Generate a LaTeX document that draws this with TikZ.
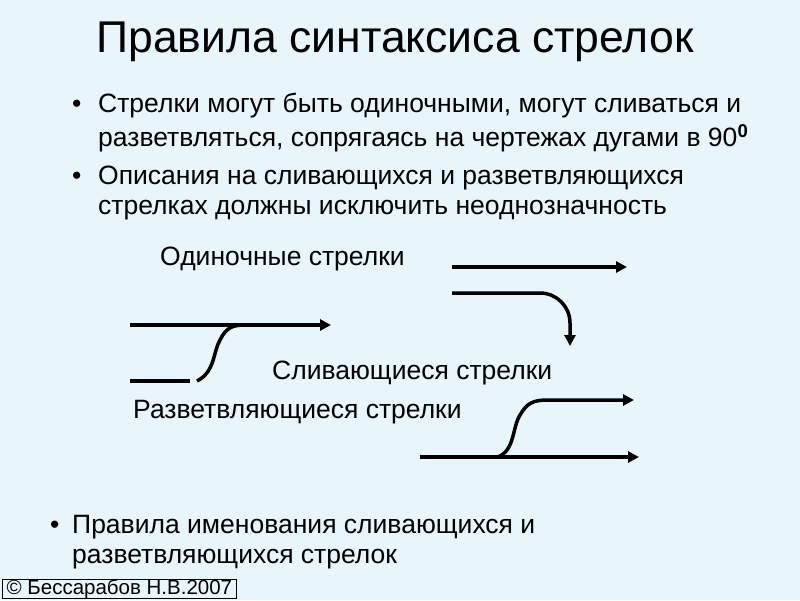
\documentclass[tikz,border=0pt]{standalone}
\usepackage{fontspec}
\setmainfont{Liberation Sans}
\usetikzlibrary{arrows.meta}
\definecolor{bg}{HTML}{E8F5FA}
\begin{document}
\begin{tikzpicture}[x=1pt,y=-1pt,
  txt/.style={anchor=west,inner sep=0pt,font=\fontsize{26.5}{30}\selectfont},
  ln/.style={line width=3.5pt},
  arr/.style={line width=3.5pt,-{Triangle[length=11pt,width=11pt]}}]
\fill[bg] (0,0) rectangle (800,600);
\useasboundingbox (0,0) rectangle (800,600);
\node[inner sep=0pt,font=\fontsize{44.5}{50}\selectfont] (title) at (395,42) {Правила синтаксиса стрелок};
\node[txt] (b1) at (72,106) {•};
\node[txt] (t1) at (98,106) {Стрелки могут быть одиночными, могут сливаться и};
\node[txt] (t1b) at (98,138) {разветвляться, сопрягаясь на чертежах дугами в 90$^{\mathbf{0}}$};
\node[txt] (b2) at (72,178) {•};
\node[txt] (t2) at (98,178) {Описания на сливающихся и разветвляющихся};
\node[txt] (t2b) at (98,210) {стрелках должны исключить неоднозначность};
\node[txt] (l1) at (160,259) {Одиночные стрелки};
\node[txt] (l2) at (272,373) {Сливающиеся стрелки};
\node[txt] (l3) at (133,412) {Разветвляющиеся стрелки};
\node[txt] (b3) at (50,527) {•};
\node[txt] (t3) at (72,527) {Правила именования сливающихся и};
\node[txt] (t3b) at (72,559) {разветвляющихся стрелок};
\node[draw,thick,anchor=south west,inner sep=0pt,font=\fontsize{20.5}{21}\selectfont,minimum width=234pt,minimum height=19pt] (copy) at (2,599) {\textcopyright\ Бессарабов Н.В.2007};
% single arrows
\coordinate (a1s) at (452,267); \coordinate (a1e) at (627,267);
\draw[arr] (a1s) -- (a1e);
\coordinate (a2s) at (452,293); \coordinate (a2e) at (570,346);
\draw[arr] (a2s) -- (540,293) arc[start angle=-90,end angle=0,radius=30] -- (a2e);
% merging
\coordinate (m1s) at (130,325); \coordinate (m1e) at (331,325);
\draw[arr] (m1s) -- (m1e);
\coordinate (m2s) at (130,381); \coordinate (m2j) at (190,381);
\draw[ln] (m2s) -- (m2j);
\draw[ln] (197,381) .. controls (215,372) and (213,352) .. (220,340) .. controls (226,328) and (232,325) .. (245,325);
% branching
\coordinate (r1s) at (420,457); \coordinate (r1e) at (639,457);
\draw[arr] (r1s) -- (r1e);
\coordinate (r2e) at (634,400);
\draw[arr] (498,457) .. controls (515,450) and (512,428) .. (520,415) .. controls (527,403) and (533,400) .. (548,400) -- (r2e);
\end{tikzpicture}
\end{document}
